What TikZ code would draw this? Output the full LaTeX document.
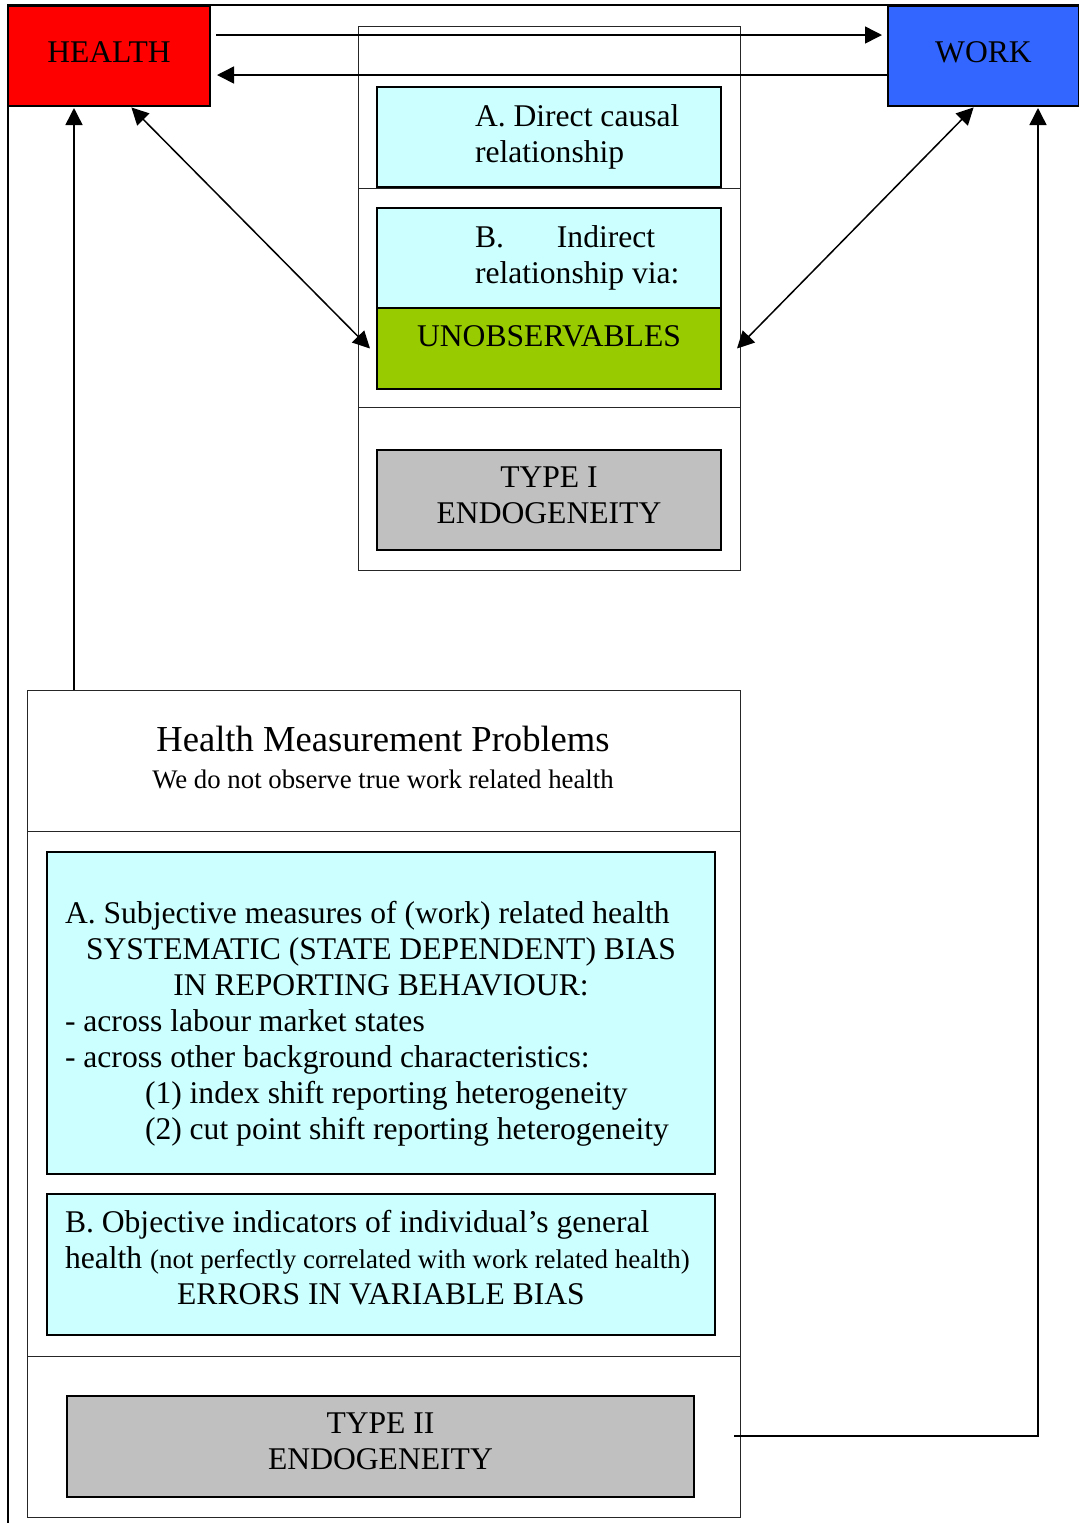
\documentclass[tikz,border=0pt]{standalone}
\usepackage{fontspec}
\setmainfont{Liberation Serif}
\usetikzlibrary{arrows.meta}

\definecolor{healthred}{HTML}{FF0000}
\definecolor{workblue}{HTML}{3366FF}
\definecolor{lightcyan}{HTML}{CCFFFF}
\definecolor{unobsgreen}{HTML}{99CC00}
\definecolor{boxgray}{HTML}{C0C0C0}

\begin{document}
\begin{tikzpicture}[x=0.5pt, y=-0.5pt,
        every node/.style = {font=\fontsize{15.8}{18}\selectfont},
        main/.style = {draw, line width=0.85pt, anchor=north west, inner sep=0pt, outer sep=0pt, minimum height=50pt, text depth=4pt},
        box/.style = {draw, line width=0.85pt, anchor=north west, inner sep=0pt, outer sep=0pt, minimum width=172pt},
        panel/.style = {draw=black!85, line width=0.5pt, anchor=north west, inner sep=0pt, outer sep=0pt},
        arr/.style = {line width=0.75pt, -{Triangle[length=8.5pt, width=8.5pt]}},
        twoway/.style = {line width=0.75pt, {Triangle[length=8.5pt, width=8.5pt]}-{Triangle[length=8.5pt, width=8.5pt]}}]

    \clip (0,0) rectangle (1079,1523);
    \draw[line width=0.7pt] (8,5) rectangle (1100,1540);

    % the two panels
    \node[panel, minimum width=191pt, minimum height=272pt] (typeonepanel) at (358,26) {};
    \draw[black!85, line width=0.5pt] (358,188) -- (740,188) (358,407) -- (740,407);
    \node[panel, minimum width=356.5pt, minimum height=413.5pt] (hmppanel) at (27,690) {};
    \draw[black!85, line width=0.5pt] (27,831) -- (740,831) (27,1356) -- (740,1356);

    % health and work
    \node[main, fill=healthred, minimum width=101pt] (health) at (8,6) {HEALTH};
    \node[main, fill=workblue, minimum width=95.5pt] (work) at (888,6) {WORK};

    % type I endogeneity
    \node[box, fill=lightcyan, minimum height=50pt, text width=172pt, align=flush left] (direct) at (377,87)
        {\spaceskip=0pt\hspace*{49pt}A. Direct causal\\\hspace*{49pt}relationship};
    \node[box, fill=lightcyan, minimum height=50pt, text width=172pt, align=flush left] (indirect) at (377,208)
        {\spaceskip=0pt\hspace*{49pt}B.\hspace{26.5pt}Indirect\\\hspace*{49pt}relationship via:};
    \node[box, fill=unobsgreen, minimum height=40.5pt, text height=11pt, text depth=13.1pt] (unobs) at (377,308) {UNOBSERVABLES};
    \node[box, fill=boxgray, minimum height=50pt, align=center] (typeI) at (377,450) {TYPE I\\ENDOGENEITY\rule[-4.5pt]{0pt}{4.5pt}};

    % type II endogeneity
    \node[align=center, font=\fontsize{13.4}{18.5}\selectfont] (hmp) at (383,757)
        {{\fontsize{18.3}{18.5}\selectfont Health Measurement Problems}\\We do not observe true work related health};
    \node[box, fill=lightcyan, minimum width=334pt, minimum height=161pt, text width=316pt, align=flush left] (subj) at (47,852)
        {\spaceskip=0pt\rule{0pt}{22pt}A. Subjective measures of (work) related health\\
         \makebox[\linewidth]{SYSTEMATIC (STATE DEPENDENT) BIAS}\\
         \makebox[\linewidth]{IN REPORTING BEHAVIOUR:}\\
         - across labour market states\\
         - across other background characteristics:\\
         \hspace*{40pt}(1) index shift reporting heterogeneity\\
         \hspace*{40pt}(2) cut point shift reporting heterogeneity};
    \node[box, fill=lightcyan, minimum width=334pt, minimum height=70.5pt, text width=316pt, align=flush left] (obj) at (47,1194)
        {\spaceskip=0pt B. Objective indicators of individual’s general\\
         health {\fontsize{13.5}{18}\selectfont(not perfectly correlated with work related health)}\\
         \makebox[\linewidth]{ERRORS IN VARIABLE BIAS\rule[-7pt]{0pt}{7pt}}};
    \node[box, fill=boxgray, minimum width=313.5pt, minimum height=50.5pt, align=center] (typeII) at (67,1396) {TYPE II\\ENDOGENEITY\rule[-5pt]{0pt}{5pt}};

    % arrows
    \draw[arr] ([xshift=3pt, yshift=10.5pt]health.east) -- ([xshift=-3pt, yshift=10.5pt]work.west);
    \draw[arr] ([yshift=-9.5pt]work.west) -- ([xshift=3.5pt, yshift=-9.5pt]health.east);
    \draw[twoway, shorten <=1pt] ([xshift=10.5pt]health.south) -- ([xshift=-3.5pt]unobs.west);
    \draw[twoway, shorten <=1pt] ([xshift=-4.25pt]work.south) -- ([xshift=8pt]unobs.east);
    \draw[arr, shorten >=1pt] ([xshift=23.5pt]hmppanel.north west) -- ([xshift=-17.5pt]health.south);
    \draw[arr, shorten >=1pt] ([xshift=20pt, yshift=5.25pt]typeII.east) -| ([xshift=27.25pt]work.south);
\end{tikzpicture}
\end{document}
